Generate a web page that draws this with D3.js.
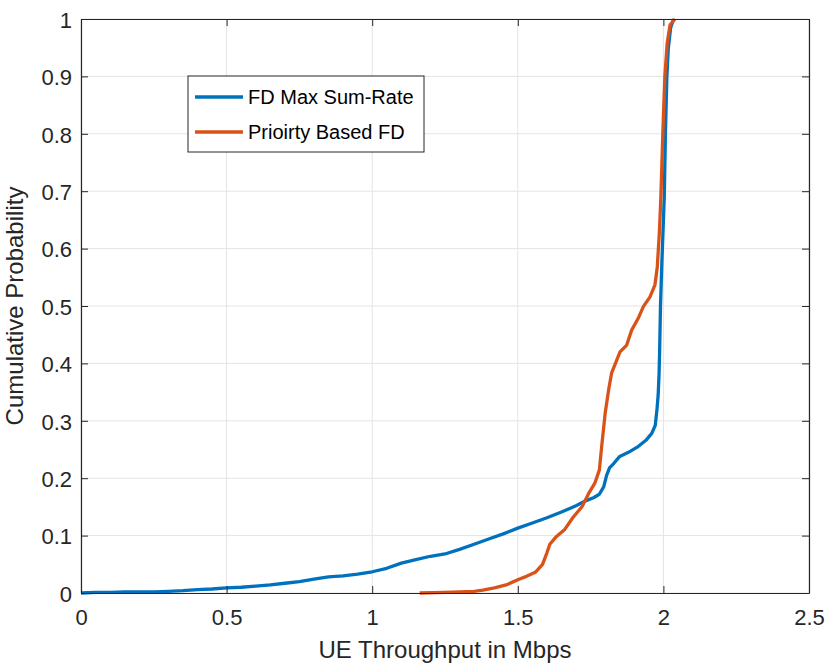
<!DOCTYPE html>
<html>
<head>
<meta charset="utf-8">
<script src="https://cdn.jsdelivr.net/npm/d3@7"></script>
<style>
  html, body { margin: 0; padding: 0; background: #fff; }
  svg { display: block; font-family: "Liberation Sans", Arial, Helvetica, sans-serif; }
</style>
</head>
<body>
<svg id="chart" width="827" height="664"></svg>
<script>
// Empirical CDF of UE throughput, one trace per scheduler
const seriesNames = ["FD Max Sum-Rate", "Prioirty Based FD"];

const maxSumRateX = [0, 0.05, 0.1, 0.15, 0.2, 0.25, 0.3, 0.35, 0.4, 0.45, 0.5, 0.55, 0.6, 0.65, 0.7, 0.75,
  0.8, 0.85, 0.9, 0.95, 1.0, 1.05, 1.1, 1.15, 1.2, 1.25, 1.3, 1.35, 1.4, 1.45, 1.5, 1.55, 1.6, 1.65,
  1.7, 1.73, 1.76, 1.78, 1.795, 1.805, 1.815, 1.83, 1.85, 1.88, 1.91, 1.94, 1.96, 1.972, 1.978, 1.982,
  1.985, 1.987, 1.99, 1.995, 1.998, 2.003, 2.007, 2.012, 2.017, 2.025, 2.035];
const maxSumRateY = [0, 0.001, 0.001, 0.002, 0.002, 0.002, 0.003, 0.004, 0.006, 0.007, 0.009, 0.010, 0.012, 0.014, 0.017, 0.020,
  0.024, 0.028, 0.030, 0.033, 0.037, 0.043, 0.052, 0.058, 0.064, 0.068, 0.076, 0.085, 0.094, 0.103, 0.113, 0.122, 0.131, 0.141,
  0.152, 0.160, 0.166, 0.172, 0.185, 0.205, 0.218, 0.226, 0.238, 0.245, 0.254, 0.266, 0.278, 0.292, 0.320, 0.345,
  0.38, 0.42, 0.50, 0.58, 0.62, 0.69, 0.80, 0.90, 0.95, 0.985, 1.0];

const priorityX = [1.163, 1.25, 1.3, 1.35, 1.38, 1.42, 1.46, 1.5, 1.53, 1.56, 1.585, 1.6, 1.61, 1.63, 1.66, 1.69,
  1.72, 1.745, 1.765, 1.78, 1.788, 1.80, 1.812, 1.822, 1.851, 1.874, 1.891, 1.914, 1.931, 1.954, 1.971,
  1.979, 1.986, 1.991, 1.998, 2.005, 2.013, 2.023, 2.04];
const priorityY = [0, 0.001, 0.002, 0.003, 0.005, 0.009, 0.014, 0.023, 0.029, 0.036, 0.050, 0.070, 0.085, 0.097, 0.110, 0.132,
  0.150, 0.175, 0.192, 0.214, 0.255, 0.313, 0.354, 0.383, 0.420, 0.432, 0.458, 0.479, 0.499, 0.516, 0.537,
  0.568, 0.627, 0.685, 0.801, 0.900, 0.958, 0.990, 1.0];

const xTicks = [0, 0.5, 1, 1.5, 2, 2.5];
const xTickLabels = ["0", "0.5", "1", "1.5", "2", "2.5"];
const yTicks = [0, 0.1, 0.2, 0.3, 0.4, 0.5, 0.6, 0.7, 0.8, 0.9, 1];
const yTickLabels = ["0", "0.1", "0.2", "0.3", "0.4", "0.5", "0.6", "0.7", "0.8", "0.9", "1"];

const xLabel = "UE Throughput in Mbps";
const yLabel = "Cumulative Probability";
const colors = ["#0072BD", "#D95319"];

// layout
const margin = { left: 81, top: 19, right: 18, bottom: 71 };
const W = 827, H = 664;
const iw = W - margin.left - margin.right;
const ih = H - margin.top - margin.bottom;
const axisColor = "#262626";
const tickLen = 7;

const svg = d3.select("#chart");
const g = svg.append("g").attr("transform", `translate(${margin.left},${margin.top})`);

const x = d3.scaleLinear().domain([0, 2.5]).range([0, iw]);
const y = d3.scaleLinear().domain([0, 1]).range([ih, 0]);

// grid
const grid = g.append("g").attr("class", "grid");
grid.selectAll("line.gx").data(xTicks).join("line")
  .attr("x1", d => x(d)).attr("x2", d => x(d)).attr("y1", 0).attr("y2", ih)
  .attr("stroke", "#e4e4e4").attr("stroke-width", 1);
grid.selectAll("line.gy").data(yTicks).join("line")
  .attr("x1", 0).attr("x2", iw).attr("y1", d => y(d)).attr("y2", d => y(d))
  .attr("stroke", "#e4e4e4").attr("stroke-width", 1);

// data traces
const line = d3.line().x(d => x(d[0])).y(d => y(d[1]));
const traces = [
  d3.zip(maxSumRateX, maxSumRateY),
  d3.zip(priorityX, priorityY)
];
traces.forEach((pts, i) => {
  g.append("path").datum(pts)
    .attr("d", line)
    .attr("fill", "none")
    .attr("stroke", colors[i])
    .attr("stroke-width", 3.3)
    .attr("stroke-linejoin", "round");
});

// axes: inward ticks on all four sides, labels on bottom and left
function styleAxis(sel) {
  sel.selectAll("path.domain").attr("stroke", axisColor).attr("stroke-width", 1.2);
  sel.selectAll(".tick line").attr("stroke", axisColor).attr("stroke-width", 1);
  sel.selectAll(".tick text").attr("fill", axisColor).style("font-size", "22px")
    .style("font-family", "'Liberation Sans', Arial, Helvetica, sans-serif");
}

const xAxis = d3.axisBottom(x).tickValues(xTicks)
  .tickFormat((d, i) => xTickLabels[i]).tickSizeInner(-tickLen).tickSizeOuter(0).tickPadding(12);
const gx = g.append("g").attr("transform", `translate(0,${ih})`).call(xAxis);
styleAxis(gx);
gx.selectAll(".tick text").attr("y", 32).attr("dy", null);

const yAxis = d3.axisLeft(y).tickValues(yTicks)
  .tickFormat((d, i) => yTickLabels[i]).tickSizeInner(-tickLen).tickSizeOuter(0);
const gy = g.append("g").call(yAxis);
styleAxis(gy);
gy.selectAll(".tick text").attr("x", -9).attr("dy", "0.38em");

const gTop = g.append("g").call(d3.axisTop(x).tickValues(xTicks).tickFormat("")
  .tickSizeInner(-tickLen).tickSizeOuter(0));
styleAxis(gTop);
const gRight = g.append("g").attr("transform", `translate(${iw},0)`)
  .call(d3.axisRight(y).tickValues(yTicks).tickFormat("").tickSizeInner(-tickLen).tickSizeOuter(0));
styleAxis(gRight);

// axis titles
svg.append("text")
  .attr("x", margin.left + iw / 2).attr("y", 658)
  .attr("text-anchor", "middle").attr("fill", axisColor)
  .style("font-size", "24px").text(xLabel);
svg.append("text")
  .attr("transform", `translate(23,${margin.top + ih / 2}) rotate(-90)`)
  .attr("text-anchor", "middle").attr("fill", axisColor)
  .style("font-size", "24px").text(yLabel);

// legend
const legend = svg.append("g").attr("transform", "translate(188,76)");
legend.append("rect")
  .attr("width", 236).attr("height", 76)
  .attr("fill", "#fff").attr("stroke", axisColor).attr("stroke-width", 1);
seriesNames.forEach((name, i) => {
  const cy = 21 + i * 35;
  legend.append("line")
    .attr("x1", 7).attr("x2", 55).attr("y1", cy).attr("y2", cy)
    .attr("stroke", colors[i]).attr("stroke-width", 3.3);
  legend.append("text")
    .attr("x", 60).attr("y", cy + 7)
    .attr("fill", "#000").style("font-size", "20px").text(name);
});
</script>
</body>
</html>
